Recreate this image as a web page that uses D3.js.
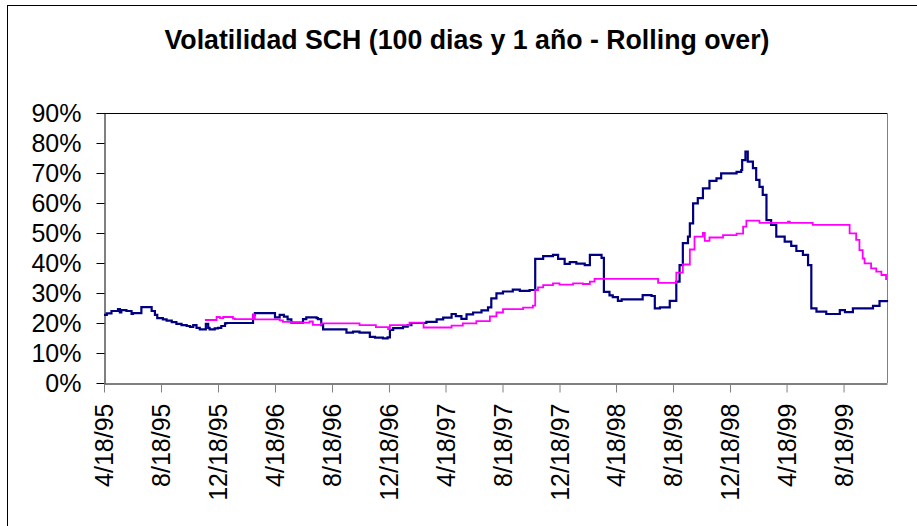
<!DOCTYPE html>
<html>
<head>
<meta charset="utf-8">
<script src="https://cdn.jsdelivr.net/npm/d3@7"></script>
<style>
  html, body { margin: 0; padding: 0; background: #fff; }
  svg { display: block; }
  text { font-family: "Liberation Sans", Arial, sans-serif; fill: #000; }
</style>
</head>
<body>
<svg id="chart" width="917" height="526"></svg>
<script>
// ---------------- DATA ----------------
const chartTitle = "Volatilidad SCH (100 dias y 1 año - Rolling over)";

const xTickLabels = ["4/18/95","8/18/95","12/18/95","4/18/96","8/18/96","12/18/96",
  "4/18/97","8/18/97","12/18/97","4/18/98","8/18/98","12/18/98","4/18/99","8/18/99"];
const yTickValues = [0, 0.1, 0.2, 0.3, 0.4, 0.5, 0.6, 0.7, 0.8, 0.9];
const yTickLabels = ["0%","10%","20%","30%","40%","50%","60%","70%","80%","90%"];
const xDomain = ["1995-04-18", "1999-11-19"];

// 100-day rolling volatility (navy)
const vol100Dates = [
 "1995-04-18","1995-04-24","1995-05-04","1995-05-18","1995-05-22","1995-05-25","1995-06-05","1995-06-16","1995-06-19","1995-07-07",
 "1995-07-29","1995-08-05","1995-08-10","1995-08-22","1995-08-30","1995-09-10","1995-09-20","1995-10-01","1995-10-12","1995-10-19",
 "1995-10-26","1995-11-02","1995-11-09","1995-11-22","1995-11-27","1995-11-30","1995-12-11","1995-12-18","1995-12-25","1996-01-02",
 "1996-01-05","1996-03-02","1996-03-06","1996-04-18","1996-04-28","1996-05-07","1996-05-15","1996-05-23","1996-06-17","1996-06-24",
 "1996-07-16","1996-07-19","1996-07-26","1996-07-30","1996-09-18","1996-10-02","1996-10-16","1996-11-07","1996-11-18","1996-12-05",
 "1996-12-15","1996-12-20","1996-12-27","1997-01-17","1997-01-27","1997-02-04","1997-03-08","1997-03-30","1997-04-13","1997-05-01",
 "1997-05-10","1997-05-22","1997-06-02","1997-06-16","1997-07-04","1997-07-18","1997-07-25","1997-08-05","1997-08-19","1997-09-09",
 "1997-09-24","1997-10-15","1997-10-27","1997-11-13","1997-12-04","1997-12-15","1997-12-29","1998-01-09","1998-01-23","1998-02-10",
 "1998-02-21","1998-03-18","1998-03-23","1998-04-04","1998-04-11","1998-04-22","1998-04-30","1998-06-14","1998-07-03","1998-07-10",
 "1998-07-21","1998-08-11","1998-08-25","1998-09-01","1998-09-08","1998-09-19","1998-09-23","1998-09-30","1998-10-10","1998-10-21",
 "1998-11-04","1998-11-19","1998-11-29","1999-01-01","1999-01-11","1999-01-13","1999-01-20","1999-01-25","1999-02-05","1999-02-12",
 "1999-02-19","1999-02-26","1999-03-06","1999-03-16","1999-03-27","1999-04-14","1999-04-28","1999-05-09","1999-05-23","1999-06-03",
 "1999-06-10","1999-06-21","1999-07-12","1999-08-10","1999-08-21","1999-09-07","1999-10-20","1999-11-03","1999-11-19"];
const vol100Values = [
 22.7,23.2,24.0,24.6,23.5,24.3,24.0,23.0,23.3,25.3,
 24.0,22.7,21.6,21.2,20.8,20.3,19.7,19.3,19.0,18.7,
 19.3,18.4,17.9,19.7,18.4,17.9,18.2,18.4,19.0,19.9,
 20.0,22.7,23.3,21.9,22.7,22.1,21.2,20.1,21.3,21.9,
 21.6,21.3,19.3,17.9,16.8,17.1,16.8,15.4,15.1,14.9,
 15.2,17.7,18.3,18.8,19.3,20.0,20.4,21.2,21.8,23.0,
 22.3,21.4,22.9,23.5,24.2,25.2,28.2,29.9,30.5,31.1,
 30.7,31.0,41.4,42.3,42.7,41.4,39.7,40.3,39.8,39.3,
 42.7,41.7,30.4,29.2,28.6,27.4,27.9,29.3,29.0,24.9,
 25.2,27.4,33.8,39.3,46.6,48.8,53.2,59.9,61.6,64.9,
 67.4,68.2,69.9,70.4,71.0,74.3,77.1,73.8,71.6,67.7,
 65.4,62.7,54.3,52.7,48.8,47.1,45.7,44.0,42.7,39.3,
 24.9,23.8,23.0,24.3,23.6,24.9,25.7,27.3,27.0];

// 1-year rolling volatility (magenta)
const vol1yDates = [
 "1995-11-20","1995-12-15","1995-12-22","1995-12-29","1996-01-19","1996-01-23","1996-03-02","1996-03-06","1996-04-28","1996-05-05",
 "1996-05-23","1996-07-01","1996-07-08","1996-07-26","1996-10-16","1996-11-20","1996-12-16","1996-12-20","1997-01-31","1997-03-02",
 "1997-05-01","1997-05-25","1997-06-23","1997-07-22","1997-08-05","1997-08-19","1997-10-01","1997-10-22","1997-10-27","1997-11-02",
 "1997-11-13","1997-12-04","1997-12-18","1998-01-16","1998-02-06","1998-02-21","1998-03-03","1998-07-17","1998-08-25","1998-09-08",
 "1998-09-23","1998-10-03","1998-10-21","1998-10-25","1998-11-04","1998-12-03","1999-01-01","1999-01-15","1999-01-22","1999-02-19",
 "1999-04-21","1999-04-25","1999-06-13","1999-08-31","1999-09-14","1999-09-21","1999-09-28","1999-10-02","1999-10-16","1999-10-27",
 "1999-11-07","1999-11-17","1999-11-19"];
const vol1yValues = [
 21.0,22.0,21.6,22.0,21.5,21.3,22.8,21.2,20.9,20.4,
 20.1,20.5,19.4,19.9,19.3,18.6,18.0,19.3,20.1,18.5,
 19.1,19.9,20.6,22.2,23.5,24.6,25.1,25.8,31.0,31.9,
 32.6,33.2,32.8,33.2,33.0,33.8,34.7,33.4,36.8,39.5,
 44.5,48.8,50.0,47.4,48.5,49.3,49.8,52.1,54.1,53.4,
 53.8,53.4,52.7,49.9,47.7,44.3,41.5,39.9,38.2,37.1,
 36.0,34.6,34.6];

// ---------------- CHART ----------------
const svg = d3.select("#chart");
const W = 917, H = 526;
const plot = { left: 104, right: 887, top: 113, bottom: 383 };

const parseISO = d3.timeParse("%Y-%m-%d");
const parseTick = d3.timeParse("%m/%d/%y");

const x = d3.scaleTime()
  .domain(xDomain.map(parseISO))
  .range([plot.left, plot.right]);
const y = d3.scaleLinear()
  .domain([0, 0.9])
  .range([plot.bottom, plot.top]);

// outer chart-area border (left and top visible)
svg.append("rect")
  .attr("x", 7.5).attr("y", 5.5)
  .attr("width", W + 20).attr("height", H + 20)
  .attr("fill", "#fff").attr("stroke", "#000").attr("stroke-width", 1);

// title
svg.append("text")
  .attr("x", 467).attr("y", 49)
  .attr("text-anchor", "middle")
  .attr("font-size", 27).attr("font-weight", "bold")
  .attr("textLength", 605).attr("lengthAdjust", "spacingAndGlyphs")
  .text(chartTitle);

// plot area border: top (black) and right (gray)
svg.append("line")
  .attr("x1", plot.left).attr("x2", plot.right)
  .attr("y1", plot.top + 0.5).attr("y2", plot.top + 0.5)
  .attr("stroke", "#000");
svg.append("line")
  .attr("x1", plot.right + 0.5).attr("x2", plot.right + 0.5)
  .attr("y1", plot.top).attr("y2", plot.bottom)
  .attr("stroke", "#808080");

// y axis
const yAxis = d3.axisLeft(y)
  .tickValues(yTickValues)
  .tickFormat((d, i) => yTickLabels[i])
  .tickSize(8).tickSizeOuter(0).tickPadding(15);
const gy = svg.append("g")
  .attr("transform", `translate(${plot.left + 0.5},0)`)
  .call(yAxis);
gy.selectAll("path, line").attr("stroke", "#000");
gy.selectAll("text")
  .attr("font-size", 25)
  .attr("font-family", "'Liberation Sans', Arial, sans-serif")
  .attr("fill", "#000");

// x axis
const xTickDates = xTickLabels.map(parseTick);
const xAxis = d3.axisBottom(x)
  .tickValues(xTickDates)
  .tickFormat((d, i) => xTickLabels[i])
  .tickSize(9).tickSizeOuter(0);
const gx = svg.append("g")
  .attr("transform", `translate(0,${plot.bottom + 0.5})`)
  .call(xAxis);
gx.select("path.domain").attr("stroke", "#000");
gx.selectAll(".tick line").attr("stroke", "#808080");
gx.selectAll("text")
  .attr("font-size", 25)
  .attr("font-family", "'Liberation Sans', Arial, sans-serif")
  .attr("fill", "#000")
  .attr("transform", "rotate(-90)")
  .attr("text-anchor", "end")
  .attr("x", -20).attr("y", 0)
  .attr("dy", "0.35em");

// lines
const line = d3.line()
  .x(d => x(d[0]))
  .y(d => y(d[1] / 100))
  .curve(d3.curveStepAfter);

const navyData = vol100Dates.map((d, i) => [parseISO(d), vol100Values[i]]);
const magentaData = vol1yDates.map((d, i) => [parseISO(d), vol1yValues[i]]);

svg.append("path")
  .datum(navyData)
  .attr("fill", "none")
  .attr("stroke", "#000080")
  .attr("stroke-width", 2.2)
  .attr("d", line);

svg.append("path")
  .datum(magentaData)
  .attr("fill", "none")
  .attr("stroke", "#FF00FF")
  .attr("stroke-width", 1.8)
  .attr("d", line);
</script>
</body>
</html>
